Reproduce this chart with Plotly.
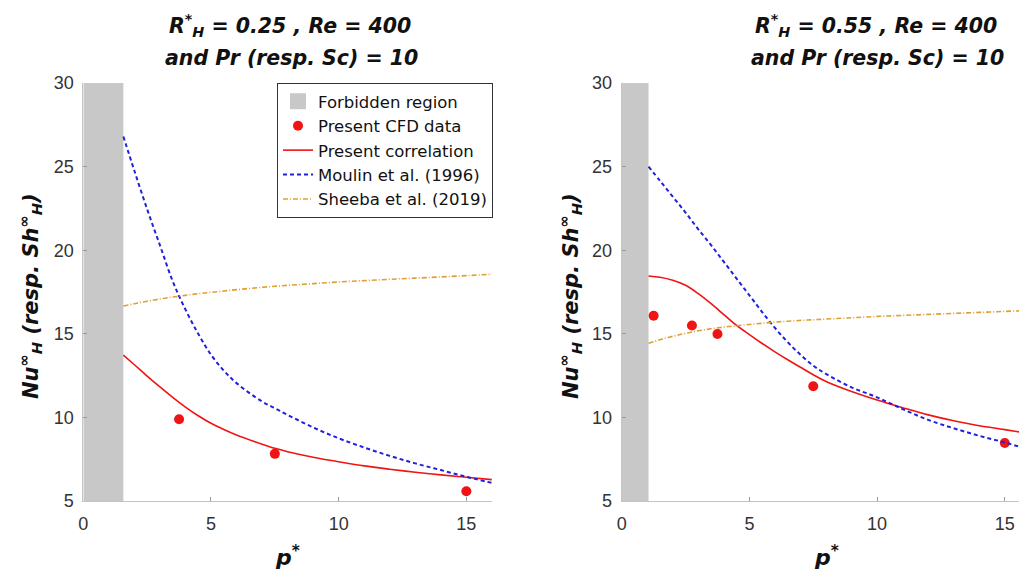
import plotly.graph_objects as go

# ---------------- data ----------------
# Left panel: R_H* = 0.25
forbidden_left = 1.57
cfd_p_left = [3.75, 7.5, 15]
cfd_nu_left = [9.89, 7.82, 5.58]

p_corr_left = [1.57, 2, 2.5, 3, 3.5, 4, 4.5, 5, 5.5, 6, 7, 7.5, 8, 9, 10, 11, 12, 13, 14, 15, 16]
nu_corr_left = [13.73, 13.15, 12.47, 11.82, 11.2, 10.62, 10.1, 9.65, 9.28, 8.95, 8.4, 8.15, 7.95, 7.62, 7.35, 7.1, 6.9, 6.72, 6.56, 6.42, 6.28]
nu_moulin_left = [26.8, 24.75, 22.45, 20.3, 18.15, 16.45, 15.0, 13.75, 12.8, 12.05, 10.95, 10.55, 10.15, 9.4, 8.75, 8.2, 7.7, 7.25, 6.85, 6.45, 6.08]
nu_sheeba_left = [16.66, 16.8, 16.95, 17.08, 17.2, 17.3, 17.4, 17.48, 17.56, 17.64, 17.78, 17.84, 17.9, 18.0, 18.1, 18.18, 18.26, 18.33, 18.4, 18.48, 18.56]

# Right panel: R_H* = 0.55
forbidden_right = 1.05
cfd_p_right = [1.25, 2.75, 3.75, 7.5, 15]
cfd_nu_right = [16.08, 15.5, 14.99, 11.86, 8.47]

p_corr_right = [1.05, 1.5, 2, 2.5, 3, 3.5, 4, 4.5, 5, 5.5, 6, 6.5, 7, 7.5, 8, 9, 10, 11, 12, 13, 14, 15, 16]
nu_corr_right = [18.46, 18.38, 18.2, 17.9, 17.4, 16.8, 16.15, 15.5, 14.95, 14.42, 13.92, 13.45, 13.0, 12.55, 12.15, 11.55, 11.04, 10.58, 10.15, 9.8, 9.5, 9.27, 9.02]
nu_moulin_right = [25.0, 24.15, 23.2, 22.25, 21.25, 20.3, 19.3, 18.3, 17.3, 16.3, 15.35, 14.5, 13.75, 13.1, 12.6, 11.8, 11.2, 10.5, 9.85, 9.35, 8.9, 8.5, 8.05]
nu_sheeba_right = [14.43, 14.65, 14.85, 15.03, 15.18, 15.3, 15.4, 15.48, 15.56, 15.63, 15.7, 15.75, 15.8, 15.84, 15.88, 15.96, 16.04, 16.1, 16.16, 16.22, 16.28, 16.34, 16.4]

y_min, y_max = 5, 30
x_ticks = [0, 5, 10, 15]
y_ticks = [5, 10, 15, 20, 25, 30]

titles = [
    "<b><i>R<sup>*</sup><sub>H</sub> = 0.25 , Re = 400</i></b>",
    "<b><i>R<sup>*</sup><sub>H</sub> = 0.55 , Re = 400</i></b>",
]
title2 = "<b><i>and Pr (resp. Sc) = 10</i></b>"
ytitle = "<b><i>Nu<sup>∞</sup><sub>H</sub> (resp. Sh<sup>∞</sup><sub>H</sub>)</i></b>"
xtitle = "<b><i>p<sup>*</sup></i></b>"
legend_names = ["Forbidden region", "Present CFD data", "Present correlation",
                "Moulin et al. (1996)", "Sheeba et al. (2019)"]

# ---------------- styles ----------------
# The page body has an 8px margin, so figure coords = screen coords - 8
OFF = 8
W, H = 1027 - OFF, 580 - OFF
GRAY = "#c8c8c8"
RED = "#f01414"
BLUE = "#2020dd"
ORANGE = "#dfa033"
FONT = "Liberation Sans, Arial, sans-serif"
TFONT = "DejaVu Sans, Liberation Sans, sans-serif"


def sx(px):
    return (px - OFF) / W


def sy(py):
    return 1 - (py - OFF) / H


fig = go.Figure()

# legend-only key for the forbidden region (square patch)
fig.add_trace(go.Scatter(
    x=[None], y=[None], mode="markers",
    marker=dict(symbol="square", size=16, color=GRAY),
    name=legend_names[0], showlegend=True, xaxis="x", yaxis="y"))


def add_panel(xa, ya, forbidden, cfd_p, cfd_nu, p, corr, moulin, sheeba, show):
    fig.add_trace(go.Scatter(
        x=[0, forbidden, forbidden, 0, 0], y=[y_min, y_min, y_max, y_max, y_min],
        fill="toself", fillcolor=GRAY, line=dict(width=0, color=GRAY), mode="lines",
        name=legend_names[0], showlegend=False, xaxis=xa, yaxis=ya, hoverinfo="skip"))
    fig.add_trace(go.Scatter(
        x=cfd_p, y=cfd_nu, mode="markers", marker=dict(color=RED, size=10),
        name=legend_names[1], showlegend=show, xaxis=xa, yaxis=ya))
    fig.add_trace(go.Scatter(
        x=p, y=corr, mode="lines", line=dict(color=RED, width=1.6, shape="spline"),
        name=legend_names[2], showlegend=show, xaxis=xa, yaxis=ya))
    fig.add_trace(go.Scatter(
        x=p, y=moulin, mode="lines", line=dict(color=BLUE, width=2, dash="4px,3px", shape="spline"),
        name=legend_names[3], showlegend=show, xaxis=xa, yaxis=ya))
    fig.add_trace(go.Scatter(
        x=p, y=sheeba, mode="lines", line=dict(color=ORANGE, width=1.6, dash="5px,2px,1px,2px", shape="spline"),
        name=legend_names[4], showlegend=show, xaxis=xa, yaxis=ya))


add_panel("x", "y", forbidden_left, cfd_p_left, cfd_nu_left, p_corr_left,
          nu_corr_left, nu_moulin_left, nu_sheeba_left, True)
add_panel("x2", "y2", forbidden_right, cfd_p_right, cfd_nu_right, p_corr_right,
          nu_corr_right, nu_moulin_right, nu_sheeba_right, False)

ydom = [sy(501), sy(83)]
axis_common = dict(
    showgrid=False, zeroline=False, showline=True, linecolor="#c4c4c4", linewidth=1,
    ticks="inside", ticklen=4, tickcolor="#999999", automargin=False,
    tickfont=dict(family=FONT, size=18, color="#333333"),
)
fig.update_layout(
    width=W, height=H,
    margin=dict(l=0, r=0, t=0, b=0, autoexpand=False),
    paper_bgcolor="white", plot_bgcolor="white",
    xaxis=dict(domain=[sx(83.3), sx(491.9)], range=[0, 16], tickvals=x_ticks,
               anchor="y", ticklabelstandoff=6, **axis_common),
    yaxis=dict(domain=ydom, range=[y_min, y_max], tickvals=y_ticks,
               anchor="x", ticklabelstandoff=5, **axis_common),
    xaxis2=dict(domain=[sx(621.7), 1.0], range=[0, (1027 - 621.7) / 25.54], tickvals=x_ticks,
                anchor="y2", ticklabelstandoff=6, **axis_common),
    yaxis2=dict(domain=ydom, range=[y_min, y_max], tickvals=y_ticks,
                anchor="x2", ticklabelstandoff=5, **axis_common),
    showlegend=True,
    legend=dict(x=sx(493), y=sy(83), xanchor="right", yanchor="top",
                bgcolor="white", bordercolor="#333333", borderwidth=1,
                font=dict(family=TFONT, size=16.5, color="#111111"),
                itemwidth=30, tracegroupgap=0),
)

ann_font = dict(family=TFONT, size=20.5, color="#111111")
for cx, t in zip([290, 876], titles):
    fig.add_annotation(text=t, x=sx(cx), y=sy(9), xref="paper", yref="paper",
                       showarrow=False, font=ann_font, xanchor="center", yanchor="top")
    fig.add_annotation(text=title2, x=sx(cx + 1), y=sy(58), xref="paper", yref="paper",
                       showarrow=False, font=ann_font, xanchor="center", yanchor="middle")

for cx in [30, 570]:
    fig.add_annotation(text=ytitle, x=sx(cx), y=sy(296), xref="paper", yref="paper",
                       showarrow=False, textangle=-90, font=dict(family=TFONT, size=21, color="#111111"),
                       xanchor="center", yanchor="middle")

for cx in [287.6, 826]:
    fig.add_annotation(text=xtitle, x=sx(cx), y=sy(556), xref="paper", yref="paper",
                       showarrow=False, font=dict(family=TFONT, size=22, color="#111111"),
                       xanchor="center", yanchor="middle")

fig.write_html("out.html")
